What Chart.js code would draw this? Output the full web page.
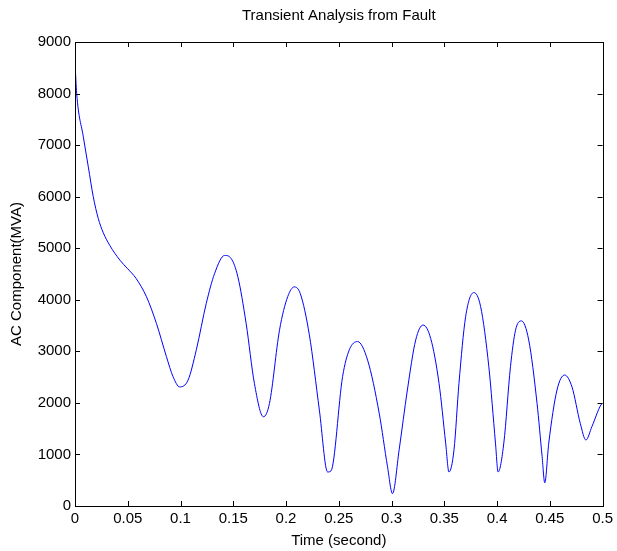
<!DOCTYPE html>
<html>
<head>
<meta charset="utf-8">
<script src="https://cdn.jsdelivr.net/npm/chart.js@4.4.1/dist/chart.umd.min.js"></script>
<style>
  html, body { margin: 0; padding: 0; background: #fff; }
  #wrap { width: 617px; height: 551px; }
</style>
</head>
<body>
<div id="wrap"><canvas id="c" width="617" height="551"></canvas></div>
<script>
// time (s) and AC component (MVA)
const timeSec = [
  0, 0.0016, 0.0079, 0.0126, 0.0173, 0.022, 0.0268, 0.0331, 0.0425, 0.05,
  0.0577, 0.0677, 0.0772, 0.0866, 0.0929, 0.0992, 0.1071, 0.115, 0.1244, 0.1323,
  0.1418, 0.148, 0.1543, 0.1622, 0.17, 0.1786, 0.1843, 0.1938, 0.2016, 0.2079,
  0.2135, 0.2221, 0.2316, 0.2394, 0.2426, 0.2536, 0.26, 0.2678, 0.2773, 0.2883,
  0.2962, 0.3009, 0.3072, 0.315, 0.3229, 0.3299, 0.3371, 0.345, 0.3513, 0.3544,
  0.3592, 0.3639, 0.3702, 0.378, 0.3844, 0.3922, 0.3985, 0.401, 0.4064, 0.4127,
  0.4175, 0.4231, 0.43, 0.4379, 0.4427, 0.4452, 0.449, 0.4568, 0.4641, 0.471,
  0.4789, 0.4842, 0.4899, 0.4984, 0.5
];
const acMva = [
  8600, 8000, 7160, 6580, 6000, 5580, 5300, 5050, 4770, 4600,
  4420, 4060, 3540, 2900, 2510, 2310, 2440, 3030, 3930, 4510,
  4860, 4800, 4450, 3540, 2380, 1730, 1990, 3410, 4060, 4250,
  4120, 3320, 1860, 660, 680, 2510, 3030, 3190, 2830, 1800,
  760, 240, 1090, 2250, 3220, 3510, 3250, 2380, 1220, 660,
  1090, 2380, 3670, 4140, 3870, 2700, 1220, 660, 1220, 2700,
  3410, 3590, 3220, 1990, 960, 450, 1220, 2250, 2540, 2310,
  1600, 1280, 1540, 1960, 1990
];

const xTickValues = [0, 0.05, 0.1, 0.15, 0.2, 0.25, 0.3, 0.35, 0.4, 0.45, 0.5];
const xTickLabels = ['0', '0.05', '0.1', '0.15', '0.2', '0.25', '0.3', '0.35', '0.4', '0.45', '0.5'];
const yTickValues = [0, 1000, 2000, 3000, 4000, 5000, 6000, 7000, 8000, 9000];
const yTickLabels = ['0', '1000', '2000', '3000', '4000', '5000', '6000', '7000', '8000', '9000'];

const titleText = 'Transient Analysis from Fault';
const FONT = 'Liberation Sans, Arial, sans-serif';
const FSIZE = 15;

// matlab style box with ticks pointing inwards on every side, title over the axes
const boxTicks = {
  id: 'boxTicks',
  afterDatasetsDraw(chart) {
    const { ctx, chartArea: a, scales } = chart;
    const len = 5;
    ctx.save();
    ctx.strokeStyle = '#000';
    ctx.lineWidth = 1;
    ctx.beginPath();
    scales.x.ticks.forEach(t => {
      const px = Math.round(scales.x.getPixelForValue(t.value)) + 0.5;
      ctx.moveTo(px, a.bottom); ctx.lineTo(px, a.bottom - len);
      ctx.moveTo(px, a.top); ctx.lineTo(px, a.top + len);
    });
    scales.y.ticks.forEach(t => {
      const py = Math.round(scales.y.getPixelForValue(t.value)) + 0.5;
      ctx.moveTo(a.left, py); ctx.lineTo(a.left + len, py);
      ctx.moveTo(a.right, py); ctx.lineTo(a.right - len, py);
    });
    ctx.stroke();
    ctx.strokeRect(Math.round(a.left) + 0.5, Math.round(a.top) + 0.5,
      Math.round(a.right - a.left), Math.round(a.bottom - a.top));

    ctx.fillStyle = '#000';
    ctx.font = FSIZE + 'px ' + FONT;
    ctx.textAlign = 'center';
    ctx.textBaseline = 'middle';
    ctx.fillText(titleText, (a.left + a.right) / 2, a.top - 26);
    ctx.restore();
  }
};

new Chart(document.getElementById('c'), {
  type: 'line',
  data: {
    datasets: [{
      data: timeSec.map((t, i) => ({ x: t, y: acMva[i] })),
      borderColor: '#0000ff',
      borderWidth: 1,
      pointRadius: 0,
      fill: false,
      cubicInterpolationMode: 'monotone'
    }]
  },
  options: {
    responsive: false,
    animation: false,
    layout: { padding: { left: 0, right: 13, top: 42, bottom: 0 } },
    plugins: {
      legend: { display: false },
      tooltip: { enabled: false },
      title: { display: false }
    },
    scales: {
      x: {
        type: 'linear',
        min: 0, max: 0.5,
        afterBuildTicks: s => { s.ticks = xTickValues.map(v => ({ value: v })); },
        afterFit: s => { s.height = 45; },
        grid: { display: false, drawTicks: false },
        border: { display: false },
        ticks: {
          color: '#000', padding: 4, maxRotation: 0, autoSkip: false,
          font: { family: FONT, size: FSIZE },
          callback: (v, i) => xTickLabels[i]
        },
        title: {
          display: true, text: 'Time (second)', color: '#000',
          font: { family: FONT, size: FSIZE }, padding: { top: 0, bottom: 1 }
        }
      },
      y: {
        type: 'linear',
        min: 0, max: 9000,
        afterBuildTicks: s => { s.ticks = yTickValues.map(v => ({ value: v })); },
        afterFit: s => { s.width = 75; },
        grid: { display: false, drawTicks: false },
        border: { display: false },
        ticks: {
          color: '#000', padding: 4, autoSkip: false,
          font: { family: FONT, size: FSIZE },
          callback: (v, i) => yTickLabels[i]
        },
        title: {
          display: true, text: 'AC Component(MVA)', color: '#000',
          font: { family: FONT, size: FSIZE }, padding: { top: 8, bottom: 0 }
        }
      }
    }
  },
  plugins: [boxTicks]
});
</script>
</body>
</html>
